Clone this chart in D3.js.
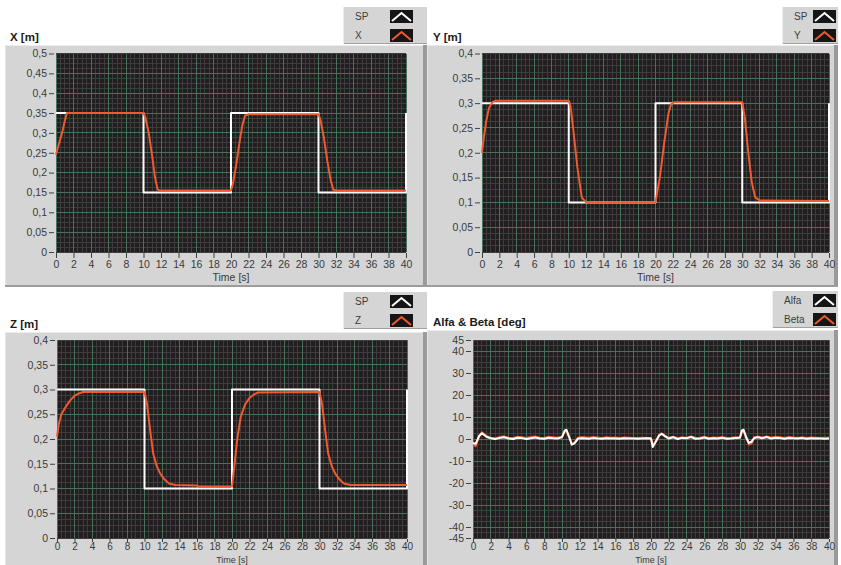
<!DOCTYPE html>
<html>
<head>
<meta charset="utf-8">
<script src="https://cdn.jsdelivr.net/npm/d3@7"></script>
<style>
  html, body { margin: 0; padding: 0; background: #ffffff; }
  svg { display: block; }
  text { font-family: "Liberation Sans", Arial, sans-serif; }
</style>
</head>
<body>
<svg id="chart" width="841" height="565"></svg>
<script>
// ---- time axis ----
const timeTicks = [0, 2, 4, 6, 8, 10, 12, 14, 16, 18, 20, 22, 24, 26, 28, 30, 32, 34, 36, 38, 40];

// ---- position axes (m) ----
const xPosTicks = [0, 0.05, 0.1, 0.15, 0.2, 0.25, 0.3, 0.35, 0.4, 0.45, 0.5];
const yzPosTicks = [0, 0.05, 0.1, 0.15, 0.2, 0.25, 0.3, 0.35, 0.4];
const angleTicks = [-45, -40, -30, -20, -10, 0, 10, 20, 30, 40, 45];

// ---- set points [t, value] ----
const spX = [[0, 0.35], [10, 0.35], [10, 0.15], [20, 0.15], [20, 0.35], [30, 0.35], [30, 0.15], [40, 0.15], [40, 0.35]];
const spY = [[0, 0.3], [10, 0.3], [10, 0.1], [20, 0.1], [20, 0.3], [30, 0.3], [30, 0.1], [40, 0.1], [40, 0.3]];
const spZ = [[0, 0.3], [10, 0.3], [10, 0.1], [20, 0.1], [20, 0.3], [30, 0.3], [30, 0.1], [40, 0.1], [40, 0.3]];

// ---- measured positions [t, value] ----
const posX = [[0, 0.245], [0.3, 0.27], [0.5, 0.285], [0.7, 0.3], [1.0, 0.33], [1.25, 0.35], [10, 0.35],
  [10.2, 0.34], [10.6, 0.3], [11.0, 0.24], [11.3, 0.19], [11.6, 0.158], [11.8, 0.155], [20, 0.155],
  [20.2, 0.17], [20.6, 0.22], [21.0, 0.28], [21.3, 0.32], [21.6, 0.343], [22, 0.347], [30, 0.347],
  [30.2, 0.335], [30.6, 0.29], [31.0, 0.23], [31.4, 0.18], [31.7, 0.157], [32, 0.155], [40, 0.155]];

const posY = [[0, 0.2], [0.2, 0.23], [0.5, 0.265], [0.8, 0.29], [1.2, 0.302], [1.6, 0.305], [10, 0.305],
  [10.2, 0.295], [10.5, 0.25], [11.0, 0.17], [11.5, 0.11], [12, 0.1], [20, 0.1],
  [20.2, 0.12], [20.5, 0.15], [21.0, 0.22], [21.5, 0.28], [21.8, 0.298], [22.2, 0.302], [30, 0.302],
  [30.3, 0.27], [30.7, 0.2], [31.1, 0.14], [31.5, 0.11], [32, 0.104], [40, 0.103]];

const posZ = [[0, 0.205], [0.2, 0.23], [0.5, 0.25], [1.0, 0.265], [1.5, 0.278], [2, 0.287], [2.5, 0.292], [3, 0.295], [10, 0.295],
  [10.3, 0.27], [10.7, 0.21], [11.0, 0.17], [11.4, 0.145], [11.8, 0.13], [12.3, 0.118], [12.8, 0.11], [13.5, 0.107], [16, 0.106], [16.2, 0.104], [20, 0.104],
  [20.3, 0.15], [20.6, 0.2], [21.0, 0.245], [21.5, 0.27], [22, 0.283], [22.5, 0.29], [23, 0.294], [30, 0.295],
  [30.3, 0.27], [30.7, 0.21], [31.0, 0.17], [31.4, 0.145], [31.8, 0.13], [32.3, 0.118], [32.8, 0.11], [33.5, 0.107], [40, 0.107]];

// ---- attitude angles (deg) [t, value] ----
const alfa = [[0, -1.8], [0.3, -2.2], [0.7, 1.5], [1.0, 2.6], [1.5, 1.0], [2.0, 0.3], [2.5, 0.0], [3.0, 0.5], [3.5, 0.8],
  [4.0, 0.2], [4.5, 0.0], [5.0, 0.6], [5.5, 0.4], [6.0, 0.0], [6.5, 0.3], [7.0, 0.7], [7.5, 0.2], [8.0, 0.1], [8.5, 0.6],
  [9.0, 0.3], [9.5, 0.2], [10.0, 0.8], [10.3, 3.8], [10.5, 4.2], [10.8, 1.0], [11.1, -2.6], [11.4, -2.0], [11.8, 0.2],
  [12.3, 0.3], [13, 0.1], [13.5, 0.4], [14, 0.2], [14.5, 0.1], [15, 0.3], [15.5, 0.2], [16, 0.2], [16.5, 0.1], [17, 0.3],
  [17.5, 0.2], [18, 0.2], [18.5, 0.1], [19, 0.2], [19.5, 0.3], [20.0, 0.2], [20.2, -3.6], [20.5, -1.5], [20.9, 1.5],
  [21.2, 2.3], [21.6, 1.2], [22.0, 0.2], [22.5, 0.8], [23, 0.0], [23.5, 0.5], [24, 0.3], [24.5, 0.9], [25, 0.1],
  [25.5, 0.2], [26, 0.7], [26.5, 0.1], [27, 0.3], [27.5, 0.2], [28, 0.6], [28.5, 0.1], [29, 0.2], [29.5, 0.4],
  [30.0, 0.6], [30.2, 3.8], [30.4, 4.2], [30.7, 0.8], [31.0, -1.8], [31.3, -1.2], [31.6, 0.5], [32, 0.8], [32.5, 0.3],
  [33, 0.9], [33.5, 0.2], [34, 0.6], [34.5, 0.4], [35, 0.1], [35.5, 0.5], [36, 0.3], [36.5, 0.2], [37, 0.4],
  [37.5, 0.1], [38, 0.3], [38.5, 0.2], [39, 0.2], [39.5, 0.1], [40, 0.2]];

const beta = [[0, -2.5], [0.3, -3.3], [0.7, 1.2], [1.0, 3.0], [1.5, 1.5], [2.0, 0.5], [2.5, 0.3], [3, 0.9], [3.5, 1.2],
  [4, 0.6], [4.5, 0.4], [5, 1.0], [5.5, 0.8], [6, 0.5], [6.5, 0.9], [7, 1.1], [7.5, 0.6], [8, 0.5], [8.5, 1.0],
  [9, 0.8], [9.5, 0.6], [10, 1.0], [10.3, 3.2], [10.5, 3.6], [10.8, 0.8], [11.1, -2.2], [11.4, -1.6], [11.8, 0.6],
  [12.3, 0.9], [13, 0.6], [13.5, 0.9], [14, 0.7], [14.5, 0.5], [15, 0.8], [15.5, 0.6], [16, 0.7], [16.5, 0.5],
  [17, 0.7], [17.5, 0.6], [18, 0.5], [18.5, 0.4], [19, 0.6], [19.5, 0.5], [20, 0.4], [20.2, -3.0], [20.5, -1.2],
  [20.9, 1.8], [21.2, 2.6], [21.6, 1.4], [22, 0.6], [22.5, 1.0], [23, 0.4], [23.5, 0.8], [24, 0.6], [24.5, 1.1],
  [25, 0.5], [25.5, 0.6], [26, 1.0], [26.5, 0.5], [27, 0.7], [27.5, 0.6], [28, 0.9], [28.5, 0.5], [29, 0.6],
  [29.5, 0.8], [30, 0.9], [30.2, 3.0], [30.4, 3.6], [30.7, 0.5], [31.0, -2.6], [31.3, -2.0], [31.6, 0.8], [32, 1.2],
  [32.5, 0.7], [33, 1.1], [33.5, 0.6], [34, 1.0], [34.5, 0.8], [35, 0.5], [35.5, 0.9], [36, 0.7], [36.5, 0.5],
  [37, 0.8], [37.5, 0.5], [38, 0.7], [38.5, 0.6], [39, 0.5], [39.5, 0.6], [40, 0.6]];

// ---- styling ----
const WHITE = "#ffffff";
const RED = "#ef5a2f";
const PANEL = "#d5d5d5";
const PLOT_BG = "#221e1f";
const GRID_MAJOR = "#46715a";
const GRID_MINOR = "#3d3d3d";
const fmtComma = d => String(d).replace(".", ",");

const svg = d3.select("#chart");

// bottom-row panels meet the window edge, so their time axis is packed tighter
const roomy = { tickSize: 5, tickPad: 3, tickFont: 10.5, labelDy: 29, labelSize: 10.5 };
const tight = { tickSize: 3, tickPad: 1, tickFont: 10, labelDy: 25, labelSize: 9 };

const panels = [
  {
    title: "X [m]", frame: [5, 45, 422, 242], legendBox: [343, 7, 84, 37], swatchX: 390,
    plot: [56, 53.5, 406, 252], domain: [0, 0.5], ticks: xPosTicks, fmt: fmtComma, time: roomy,
    series: [{ name: "SP", data: spX, color: WHITE }, { name: "X", data: posX, color: RED }]
  },
  {
    title: "Y [m]", frame: [427, 45, 411, 242], legendBox: [782, 7, 56, 37], swatchX: 813,
    plot: [482, 53.5, 829, 252], domain: [0, 0.4], ticks: yzPosTicks, fmt: fmtComma, time: roomy,
    series: [{ name: "SP", data: spY, color: WHITE }, { name: "Y", data: posY, color: RED }]
  },
  {
    title: "Z [m]", frame: [5, 332, 422, 240], legendBox: [343, 292, 84, 37], swatchX: 390,
    plot: [57, 340, 407, 538], domain: [0, 0.4], ticks: yzPosTicks, fmt: fmtComma, time: tight,
    series: [{ name: "SP", data: spZ, color: WHITE }, { name: "Z", data: posZ, color: RED }]
  },
  {
    title: "Alfa & Beta [deg]", frame: [427, 330, 411, 240], legendBox: [772, 291, 66, 37], swatchX: 813,
    plot: [473, 340, 829, 538], domain: [-45, 45], ticks: angleTicks, fmt: d => String(d), time: tight,
    series: [{ name: "Alfa", data: alfa, color: WHITE }, { name: "Beta", data: beta, color: RED }],
    drawOrder: [1, 0]
  }
];

panels.forEach(p => {
  const g = svg.append("g");
  const [fx, fy, fw, fh] = p.frame;

  // raised grey panel
  g.append("rect").attr("x", fx).attr("y", fy).attr("width", fw).attr("height", fh).attr("fill", PANEL);
  g.append("line").attr("x1", fx).attr("x2", fx + fw).attr("y1", fy + 0.5).attr("y2", fy + 0.5).attr("stroke", "#ececec");
  g.append("line").attr("x1", fx + 0.5).attr("x2", fx + 0.5).attr("y1", fy).attr("y2", fy + fh).attr("stroke", "#e6e6e6");
  g.append("rect").attr("x", fx + fw - 4).attr("y", fy).attr("width", 4).attr("height", fh).attr("fill", "#9a9a9a");
  g.append("line").attr("x1", fx).attr("x2", fx + fw).attr("y1", fy + fh - 1).attr("y2", fy + fh - 1).attr("stroke", "#9c9c9c").attr("stroke-width", 2);

  // title
  g.append("text").attr("x", fx === 5 ? 10 : 433).attr("y", fy - 4)
    .attr("font-size", 11.5).attr("font-weight", "bold").attr("fill", "#1a1a1a").text(p.title);

  // legend
  const [lx, ly, lw, lh] = p.legendBox;
  g.append("rect").attr("x", lx).attr("y", ly).attr("width", lw).attr("height", lh).attr("fill", PANEL);
  g.append("line").attr("x1", lx).attr("x2", lx + lw).attr("y1", ly + lh - 0.5).attr("y2", ly + lh - 0.5).attr("stroke", "#a0a0a0");
  g.append("line").attr("x1", lx + 0.5).attr("x2", lx + 0.5).attr("y1", ly).attr("y2", ly + lh).attr("stroke", "#ededed");
  p.series.forEach((s, i) => {
    const sy = ly + 3 + i * 19;
    g.append("text").attr("x", lx + 12).attr("y", sy + 10)
      .attr("font-size", 10).attr("fill", "#3c3c3c").text(s.name);
    g.append("rect").attr("x", p.swatchX).attr("y", sy).attr("width", 23).attr("height", 13).attr("fill", "#151515");
    g.append("polyline")
      .attr("points", `${p.swatchX + 2},${sy + 11} ${p.swatchX + 11.5},${sy + 3} ${p.swatchX + 21},${sy + 11}`)
      .attr("fill", "none").attr("stroke", s.color).attr("stroke-width", 2);
  });

  // scales
  const [x0, y0, x1, y1] = p.plot;
  const xs = d3.scaleLinear().domain([0, 40]).range([x0, x1]);
  const ys = d3.scaleLinear().domain(p.domain).range([y1, y0]);

  // plot background
  g.append("rect").attr("x", x0).attr("y", y0).attr("width", x1 - x0).attr("height", y1 - y0).attr("fill", PLOT_BG);

  const grid = g.append("g").attr("shape-rendering", "crispEdges");
  // minor grid
  d3.range(0, 40.001, 0.5).forEach(t => {
    grid.append("line").attr("x1", xs(t)).attr("x2", xs(t)).attr("y1", y0).attr("y2", y1)
      .attr("stroke", GRID_MINOR).attr("stroke-width", 1);
  });
  const majorY = p.ticks.filter(v => v > p.domain[0] && v < p.domain[1]);
  const yStep = p.domain[1] - p.domain[0] > 10 ? 10 : 0.05;
  d3.range(p.domain[0], p.domain[1] + 1e-9, yStep / 4).forEach(v => {
    grid.append("line").attr("x1", x0).attr("x2", x1).attr("y1", ys(v)).attr("y2", ys(v))
      .attr("stroke", GRID_MINOR).attr("stroke-width", 1);
  });
  // major grid
  timeTicks.forEach(t => {
    grid.append("line").attr("x1", xs(t)).attr("x2", xs(t)).attr("y1", y0).attr("y2", y1)
      .attr("stroke", GRID_MAJOR).attr("stroke-width", 1);
  });
  majorY.forEach(v => {
    grid.append("line").attr("x1", x0).attr("x2", x1).attr("y1", ys(v)).attr("y2", ys(v))
      .attr("stroke", GRID_MAJOR).attr("stroke-width", 1);
  });

  // axes
  const yAxis = d3.axisLeft(ys).tickValues(p.ticks).tickFormat(p.fmt).tickSize(5).tickPadding(2);
  const ya = g.append("g").attr("transform", `translate(${x0 - 2},0)`).call(yAxis);
  ya.select(".domain").remove();
  ya.selectAll(".tick line").attr("stroke", "#404040");
  ya.selectAll(".tick text").attr("font-size", 10.5).attr("fill", "#3a3a3a")
    .attr("font-family", "'Liberation Sans', Arial, sans-serif");

  const xAxis = d3.axisBottom(xs).tickValues(timeTicks).tickFormat(d => String(d))
    .tickSize(p.time.tickSize).tickPadding(p.time.tickPad);
  const xa = g.append("g").attr("transform", `translate(0,${y1 + 1})`).call(xAxis);
  xa.select(".domain").remove();
  xa.selectAll(".tick line").attr("stroke", "#404040");
  xa.selectAll(".tick text").attr("font-size", p.time.tickFont).attr("fill", "#3a3a3a")
    .attr("font-family", "'Liberation Sans', Arial, sans-serif");

  g.append("text").attr("x", (x0 + x1) / 2).attr("y", y1 + p.time.labelDy).attr("text-anchor", "middle")
    .attr("font-size", p.time.labelSize).attr("fill", "#3a3a3a").text("Time [s]");

  // traces
  const line = d3.line().x(d => xs(d[0])).y(d => ys(d[1]));
  const clipId = "clip" + Math.round(x0) + "_" + Math.round(y0);
  g.append("clipPath").attr("id", clipId).append("rect")
    .attr("x", x0 - 2).attr("y", y0).attr("width", x1 - x0 + 3).attr("height", y1 - y0);
  const order = p.drawOrder || [0, 1];
  order.forEach(i => {
    const s = p.series[i];
    g.append("path").datum(s.data).attr("d", line)
      .attr("clip-path", `url(#${clipId})`)
      .attr("fill", "none").attr("stroke", s.color).attr("stroke-width", 2)
      .attr("stroke-linejoin", "round");
  });
});
</script>
</body>
</html>
